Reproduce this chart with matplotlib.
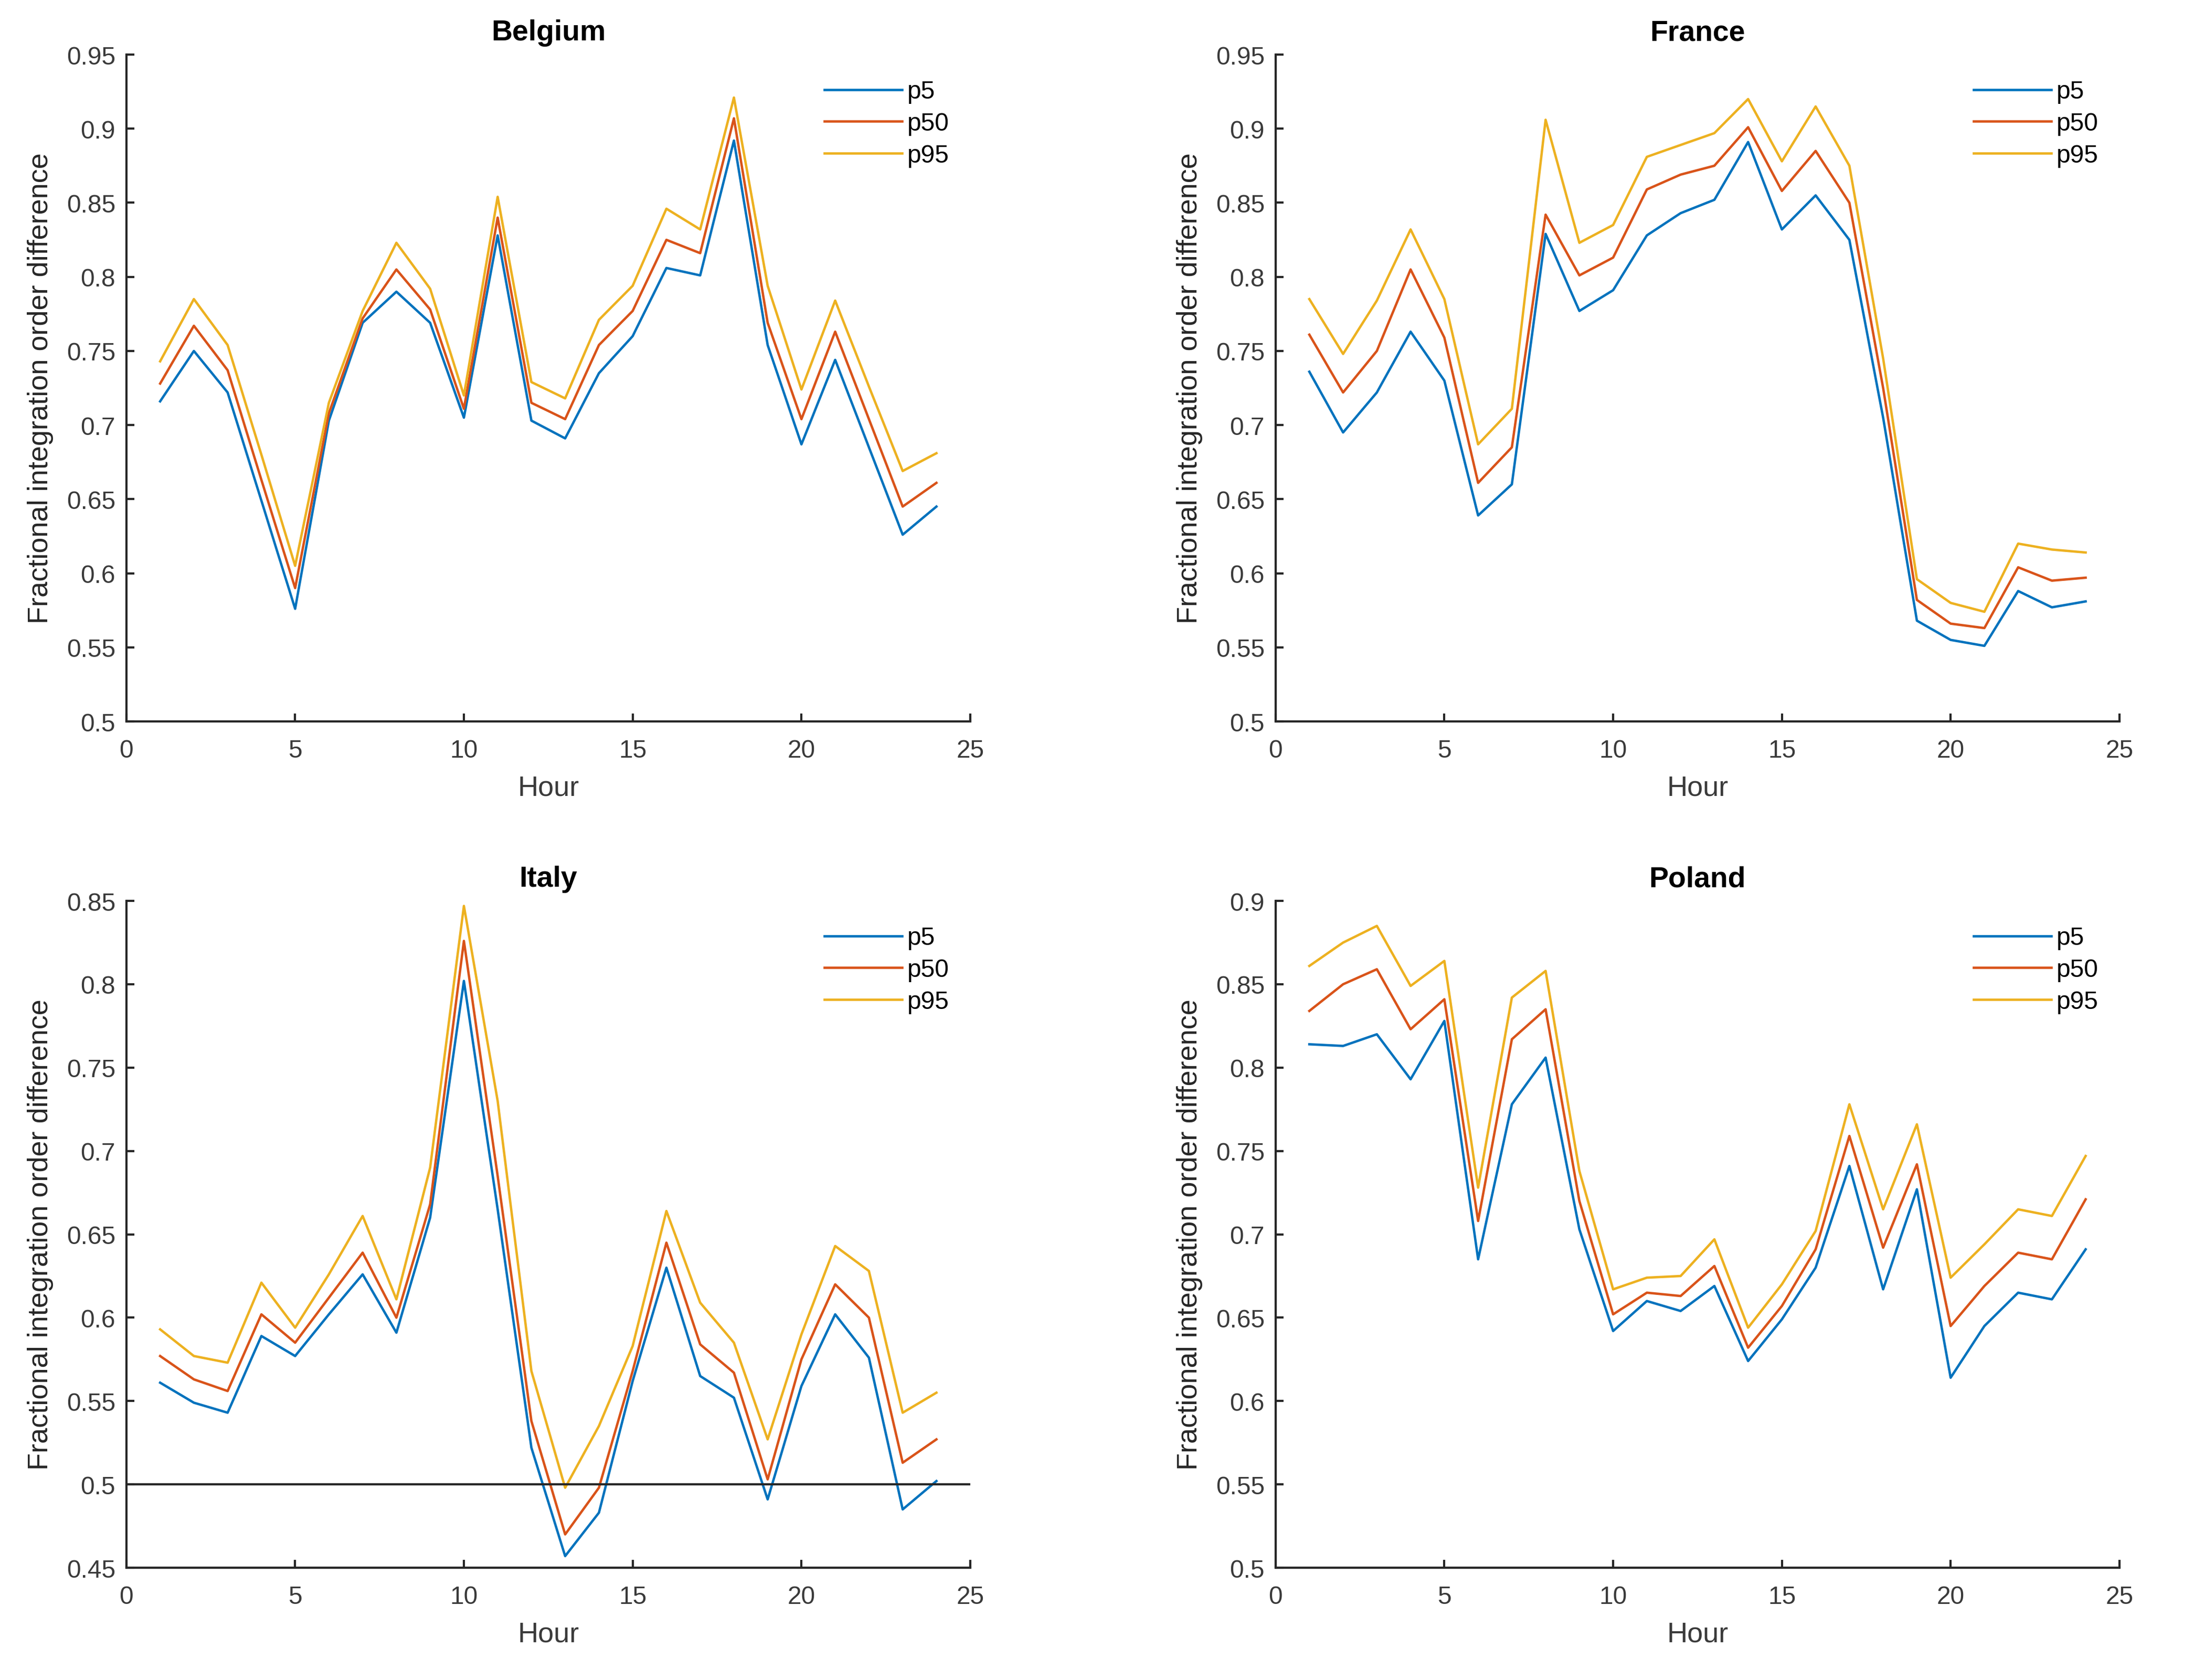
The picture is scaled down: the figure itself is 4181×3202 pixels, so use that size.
import matplotlib
matplotlib.use("Agg")
import matplotlib.pyplot as plt
from matplotlib.ticker import FuncFormatter, MultipleLocator
import numpy as np

hours = np.arange(1, 25)

# Belgium
be_p5 = [0.716, 0.750, 0.722, 0.649, 0.576, 0.703, 0.769, 0.790, 0.769, 0.705, 0.828, 0.703,
         0.691, 0.735, 0.760, 0.806, 0.801, 0.892, 0.754, 0.687, 0.744, 0.685, 0.626, 0.645]
be_p50 = [0.728, 0.767, 0.737, 0.663, 0.590, 0.708, 0.772, 0.805, 0.778, 0.711, 0.840, 0.715,
          0.704, 0.754, 0.777, 0.825, 0.816, 0.907, 0.769, 0.704, 0.763, 0.704, 0.645, 0.661]
be_p95 = [0.743, 0.785, 0.754, 0.680, 0.605, 0.715, 0.777, 0.823, 0.792, 0.720, 0.854, 0.729,
          0.718, 0.771, 0.794, 0.846, 0.832, 0.921, 0.794, 0.724, 0.784, 0.726, 0.669, 0.681]

# France
fr_p5 = [0.736, 0.695, 0.722, 0.763, 0.730, 0.639, 0.660, 0.829, 0.777, 0.791, 0.828, 0.843,
         0.852, 0.891, 0.832, 0.855, 0.825, 0.705, 0.568, 0.555, 0.551, 0.588, 0.577, 0.581]
fr_p50 = [0.761, 0.722, 0.750, 0.805, 0.759, 0.661, 0.685, 0.842, 0.801, 0.813, 0.859, 0.869,
          0.875, 0.901, 0.858, 0.885, 0.850, 0.725, 0.582, 0.566, 0.563, 0.604, 0.595, 0.597]
fr_p95 = [0.785, 0.748, 0.784, 0.832, 0.785, 0.687, 0.711, 0.906, 0.823, 0.835, 0.881, 0.889,
          0.897, 0.920, 0.878, 0.915, 0.875, 0.745, 0.596, 0.580, 0.574, 0.620, 0.616, 0.614]

# Italy
it_p5 = [0.561, 0.549, 0.543, 0.589, 0.577, 0.602, 0.626, 0.591, 0.660, 0.802, 0.665, 0.522,
         0.457, 0.483, 0.562, 0.630, 0.565, 0.552, 0.491, 0.559, 0.602, 0.576, 0.485, 0.502]
it_p50 = [0.577, 0.563, 0.556, 0.602, 0.585, 0.612, 0.639, 0.600, 0.668, 0.826, 0.685, 0.538,
          0.470, 0.498, 0.568, 0.645, 0.584, 0.567, 0.503, 0.575, 0.620, 0.600, 0.513, 0.527]
it_p95 = [0.593, 0.577, 0.573, 0.621, 0.594, 0.626, 0.661, 0.611, 0.690, 0.847, 0.730, 0.568,
          0.498, 0.535, 0.583, 0.664, 0.609, 0.585, 0.527, 0.590, 0.643, 0.628, 0.543, 0.555]

# Poland
pl_p5 = [0.814, 0.813, 0.820, 0.793, 0.828, 0.685, 0.778, 0.806, 0.703, 0.642, 0.660, 0.654,
         0.669, 0.624, 0.649, 0.680, 0.741, 0.667, 0.727, 0.614, 0.645, 0.665, 0.661, 0.691]
pl_p50 = [0.834, 0.850, 0.859, 0.823, 0.841, 0.708, 0.817, 0.835, 0.720, 0.652, 0.665, 0.663,
          0.681, 0.632, 0.657, 0.691, 0.759, 0.692, 0.742, 0.645, 0.669, 0.689, 0.685, 0.721]
pl_p95 = [0.861, 0.875, 0.885, 0.849, 0.864, 0.728, 0.842, 0.858, 0.738, 0.667, 0.674, 0.675,
          0.697, 0.644, 0.670, 0.702, 0.778, 0.715, 0.766, 0.674, 0.694, 0.715, 0.711, 0.747]

countries = ["Belgium", "France", "Italy", "Poland"]
series = [(be_p5, be_p50, be_p95), (fr_p5, fr_p50, fr_p95),
          (it_p5, it_p50, it_p95), (pl_p5, pl_p50, pl_p95)]
ylims = [(0.5, 0.95), (0.5, 0.95), (0.45, 0.85), (0.5, 0.9)]
labels = ["p5", "p50", "p95"]
colors = ["#0072BD", "#D95319", "#EDB120"]

# axes positions [left, bottom, width, height] in figure fraction
positions = [[0.0576, 0.5704, 0.3846, 0.3968], [0.5814, 0.5704, 0.3846, 0.3968],
             [0.0576, 0.0668, 0.3846, 0.3968], [0.5814, 0.0668, 0.3846, 0.3968]]

plt.rcParams["font.family"] = ["Liberation Sans", "DejaVu Sans"]
fig = plt.figure(figsize=(4181 / 300, 3203 / 300), dpi=300)
fmt = FuncFormatter(lambda v, p: "%g" % round(v, 4))
txt = "#3a3a3a"

for name, (a, b, c), ylim, pos in zip(countries, series, ylims, positions):
    ax = fig.add_axes(pos)
    for vals, lab, col in zip((a, b, c), labels, colors):
        ax.plot(hours, vals, color=col, lw=1.1, label=lab)
    if name == "Italy":
        ax.axhline(0.5, color="#262626", lw=1.0)
    ax.set_xlim(0, 25)
    ax.set_ylim(*ylim)
    ax.xaxis.set_major_locator(MultipleLocator(5))
    ax.yaxis.set_major_locator(MultipleLocator(0.05))
    ax.yaxis.set_major_formatter(fmt)
    for s in ["top", "right"]:
        ax.spines[s].set_visible(False)
    for s in ["left", "bottom"]:
        ax.spines[s].set_color("#262626")
        ax.spines[s].set_linewidth(1.0)
    ax.tick_params(direction="in", length=3.6, width=1.0, colors="#262626",
                   labelsize=11.5, labelcolor=txt)
    ax.tick_params(axis="x", pad=8)
    ax.tick_params(axis="y", pad=5)
    ax.set_title(name, fontsize=13.3, fontweight="bold", pad=6.7)
    ax.set_xlabel("Hour", fontsize=13, color=txt, labelpad=5.5)
    ax.set_ylabel("Fractional integration order difference", fontsize=13,
                  color="#262626", labelpad=6)
    ax.legend(loc="upper left", bbox_to_anchor=(0.827, 0.962), frameon=False,
              fontsize=11.5, handlelength=3.1, handletextpad=0.2, labelspacing=0.33,
              borderaxespad=0, borderpad=0)

fig.savefig("out.png", dpi=300, facecolor="white")
